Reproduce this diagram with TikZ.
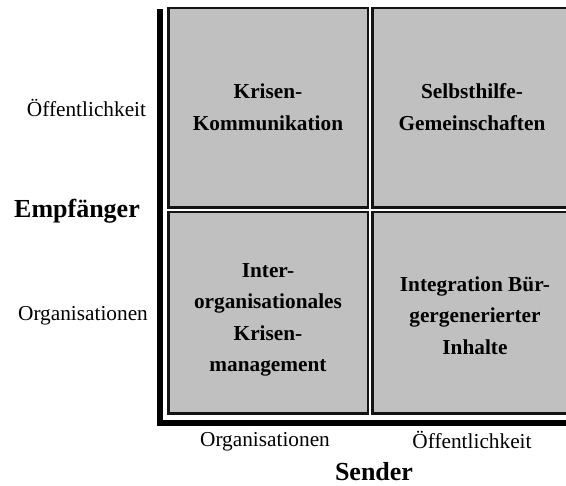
\documentclass[tikz,border=0pt]{standalone}
\usepackage{fontspec}
\setmainfont{Liberation Serif}
\definecolor{cellgray}{RGB}{192,192,192}
\begin{document}
\begin{tikzpicture}[x=1pt,y=-1pt,
  cell/.style={draw=black!92, fill=cellgray, line width=2.5pt, inner sep=0pt, outer sep=0pt},
  celltext/.style={align=center, inner sep=0pt, font=\fontsize{21.3}{31.5}\selectfont\bfseries},
  lab/.style={inner sep=0pt, anchor=base, font=\fontsize{21.3}{25}\selectfont},
  head/.style={inner sep=0pt, anchor=base, font=\fontsize{26}{30}\selectfont\bfseries},
  axisline/.style={line width=6pt, black, line join=miter}]
\clip (0,0) rectangle (566,486);
\fill[white] (0,0) rectangle (566,486);
% cells
\node[cell, minimum width=199.5pt, minimum height=199.5pt] (tl) at (268,108) {};
\node[cell, minimum width=205.5pt, minimum height=199.5pt] (tr) at (475,108) {};
\node[cell, minimum width=199.5pt, minimum height=201.5pt] (bl) at (268,313) {};
\node[cell, minimum width=205.5pt, minimum height=201.5pt] (br) at (475,313) {};
% cell texts
\node[celltext] (tlt) at (268,107) {Krisen-\\Kommunikation};
\node[celltext] (trt) at (472,107) {Selbsthilfe-\\Gemeinschaften};
\node[celltext] (blt) at (268,320) {Inter-\\organisationales\\Krisen-\\management};
\node[celltext] (brt) at (475,315.5) {Integration Bür-\\gergenerierter\\Inhalte};
% axes
\coordinate (atop) at (160,9);
\coordinate (acorner) at (160,423.5);
\coordinate (aright) at (570,423.5);
\draw[axisline] (atop) -- (acorner) -- (aright);
% labels
\node[lab] (yoe) at (86.5,117) {Öffentlichkeit};
\node[lab] (yorg) at (83,321) {Organisationen};
\node[head] (yhead) at (77,218) {Empfänger};
\node[lab] (xorg) at (265,447) {Organisationen};
\node[lab] (xoe) at (472,449) {Öffentlichkeit};
\node[head] (xhead) at (374,480.5) {Sender};
\end{tikzpicture}
\end{document}
